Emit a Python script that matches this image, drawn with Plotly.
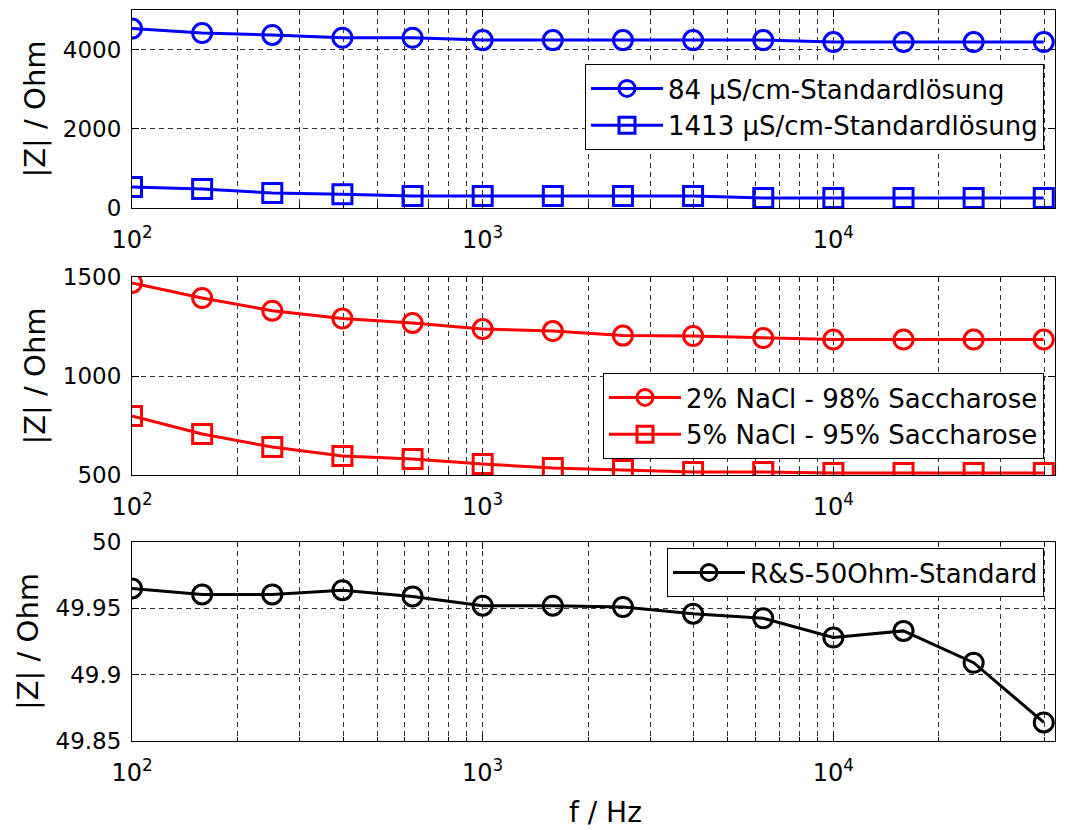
import plotly.graph_objects as go

# Measurement frequencies (Hz)
freq = [100, 158.5, 251.2, 398.1, 631.0, 1000, 1585, 2512, 3981, 6310,
        10000, 15849, 25119, 39811]

# Conductivity standard solutions
z_84 = [4530, 4420, 4370, 4300, 4300, 4240, 4240, 4240, 4240, 4240,
        4190, 4190, 4190, 4190]
z_1413 = [530, 480, 380, 350, 300, 300, 300, 300, 300, 250,
          250, 250, 250, 250]

# NaCl / saccharose mixtures
z_nacl2 = [1470, 1394, 1330, 1290, 1268, 1237, 1227, 1204, 1202, 1192,
           1184, 1184, 1184, 1184]
z_nacl5 = [798, 707, 641, 596, 581, 556, 535, 525, 515, 515,
           510, 510, 510, 510]

# 50 Ohm reference standard
z_50 = [49.965, 49.9605, 49.9605, 49.9637, 49.959, 49.952, 49.952, 49.951,
        49.946, 49.9425, 49.928, 49.933, 49.909, 49.864]

y_ticks_1 = [0, 2000, 4000]
y_ticks_2 = [500, 1000, 1500]
y_ticks_3 = [49.85, 49.9, 49.95, 50]
y_ticktext_3 = ["49.85", "49.9", "49.95", "50"]

x_major = [100, 1000, 10000]
x_major_text = ["10<sup>2</sup>", "10<sup>3</sup>", "10<sup>4</sup>"]
x_minor = [m * d for d in (100, 1000, 10000) for m in range(2, 10) if m * d < 43000]

FONT = "DejaVu Sans, Arial, sans-serif"
W, H = 1069, 830
X0, X1 = 132 / W, 1055 / W
panels = [(10, 208), (277, 475), (542, 741)]
domains = [[1 - b / H, 1 - t / H] for t, b in panels]

fig = go.Figure()

def add(x, y, name, color, symbol, xa, ya, legend):
    fig.add_trace(go.Scatter(
        x=x, y=y, name=name, mode="lines+markers",
        line=dict(color=color, width=3),
        marker=dict(symbol=symbol, size=19, color=color,
                    line=dict(color=color, width=3)),
        xaxis=xa, yaxis=ya, legend=legend))

add(freq, z_84, "84 µS/cm-Standardlösung", "#0000ff", "circle-open", "x", "y", "legend")
add(freq, z_1413, "1413 µS/cm-Standardlösung", "#0000ff", "square-open", "x", "y", "legend")
add(freq, z_nacl2, "2% NaCl - 98% Saccharose", "#ff0000", "circle-open", "x2", "y2", "legend2")
add(freq, z_nacl5, "5% NaCl - 95% Saccharose", "#ff0000", "square-open", "x2", "y2", "legend2")
add(freq, z_50, "R&S-50Ohm-Standard", "#000000", "circle-open", "x3", "y3", "legend3")

xaxis_common = dict(
    type="log", range=[2, 4.632], domain=[X0, X1], automargin=False,
    showline=True, linecolor="black", linewidth=1, mirror="ticks",
    ticks="inside", ticklen=7, tickcolor="black",
    tickvals=x_major, ticktext=x_major_text,
    showgrid=True, gridcolor="#333333", gridwidth=1, griddash="5px,4px",
    minor=dict(tickvals=x_minor, ticks="inside", ticklen=4, tickcolor="black",
               showgrid=True, gridcolor="#333333", gridwidth=1, griddash="5px,4px"),
    tickfont=dict(family=FONT, size=24, color="black"),
    ticklabelstandoff=10, zeroline=False,
)

yaxis_common = dict(
    automargin=False,
    showline=True, linecolor="black", linewidth=1, mirror="ticks",
    ticks="inside", ticklen=7, tickcolor="black",
    showgrid=True, gridcolor="#333333", gridwidth=1, griddash="5px,4px",
    tickfont=dict(family=FONT, size=23, color="black"),
    title=dict(text="|Z| / Ohm", font=dict(family=FONT, size=29, color="black"),
               standoff=8),
    zeroline=False, ticklabelstandoff=5,
)

legend_common = dict(
    bgcolor="white", bordercolor="black", borderwidth=1,
    font=dict(family=FONT, size=26, color="black"),
    xanchor="right", yanchor="top", itemwidth=72, tracegroupgap=0,
)

fig.update_layout(
    width=W, height=H, margin=dict(l=0, r=0, t=0, b=0),
    paper_bgcolor="white", plot_bgcolor="white",
    xaxis=dict(xaxis_common, anchor="y"),
    xaxis2=dict(xaxis_common, anchor="y2"),
    xaxis3=dict(xaxis_common, anchor="y3"),
    yaxis=dict(yaxis_common, anchor="x", domain=domains[0], range=[0, 5000],
               tickvals=y_ticks_1),
    yaxis2=dict(yaxis_common, anchor="x2", domain=domains[1], range=[500, 1500],
                tickvals=y_ticks_2),
    yaxis3=dict(yaxis_common, anchor="x3", domain=domains[2], range=[49.85, 50],
                tickvals=y_ticks_3, ticktext=y_ticktext_3),
    legend=dict(legend_common, x=1044 / W, y=1 - 64 / H),
    legend2=dict(legend_common, x=1044 / W, y=1 - 373 / H),
    legend3=dict(legend_common, x=1044 / W, y=1 - 548 / H),
    showlegend=True,
    annotations=[dict(text="f / Hz", xref="paper", yref="paper",
                      x=605 / W, y=1 - 812 / H, xanchor="center", yanchor="middle",
                      showarrow=False,
                      font=dict(family=FONT, size=28, color="black"))],
)

fig.write_html("out.html")
